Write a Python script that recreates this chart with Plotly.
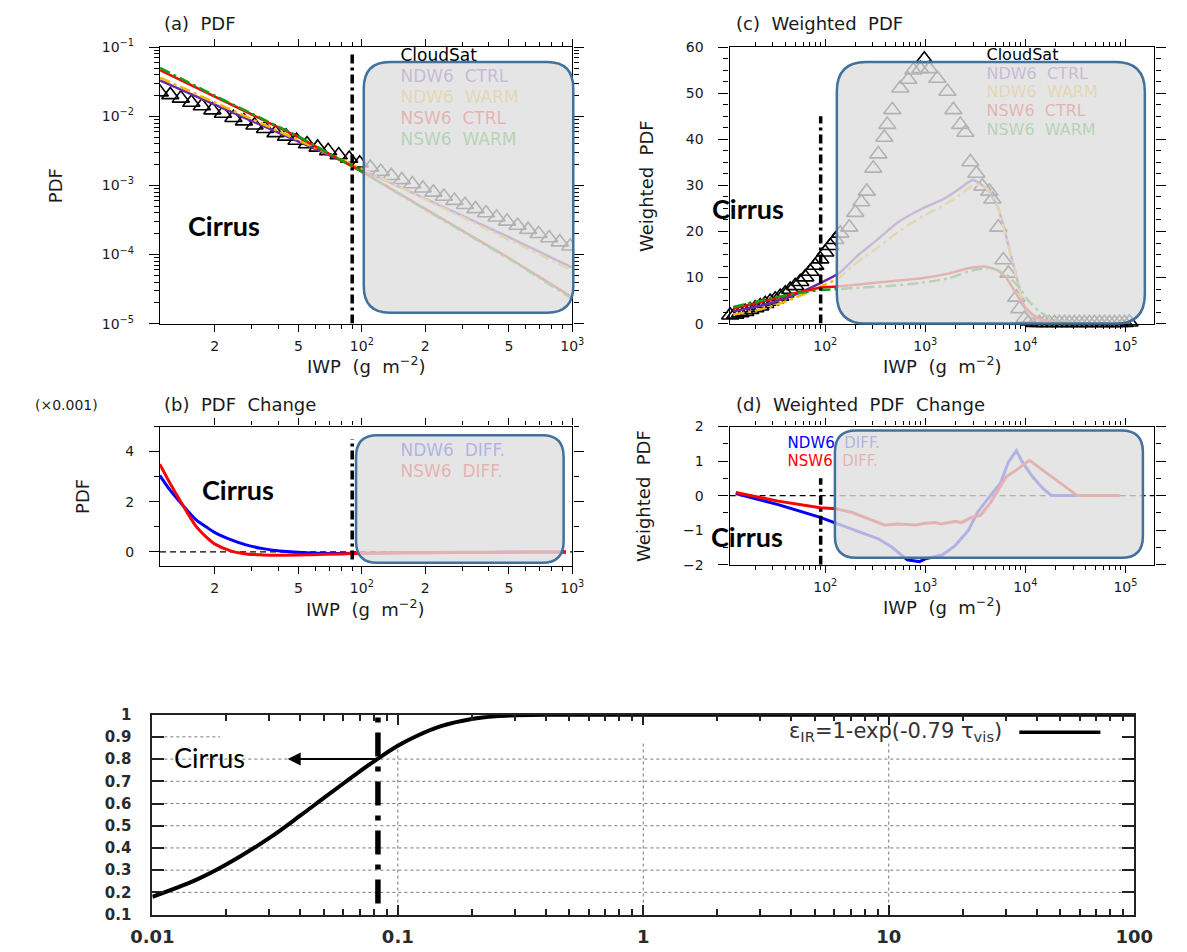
import math
import plotly.graph_objects as go

W, H = 1187, 952

# ---------------- (a) PDF ----------------
A_CS_LOGIWP = [1.04, 1.09, 1.14, 1.19, 1.24, 1.29, 1.34, 1.39, 1.44, 1.49,
               1.54, 1.59, 1.64, 1.69, 1.74, 1.79, 1.84, 1.89, 1.94, 1.99,
               2.04, 2.09, 2.14, 2.19, 2.24, 2.29, 2.34, 2.39, 2.44, 2.49,
               2.54, 2.59, 2.64, 2.69, 2.74, 2.79, 2.84, 2.89, 2.94, 2.99]
A_CS_LOGPDF = [-1.65, -1.69, -1.74, -1.80, -1.85, -1.91, -1.96, -2.02, -2.07, -2.13,
               -2.18, -2.24, -2.29, -2.35, -2.40, -2.45, -2.50, -2.56, -2.61, -2.68,
               -2.74, -2.80, -2.86, -2.92, -2.98, -3.04, -3.10, -3.16, -3.22, -3.28,
               -3.34, -3.40, -3.46, -3.52, -3.58, -3.64, -3.70, -3.76, -3.82, -3.88]
A_MODEL_IWP = [11, 20, 50, 100, 200, 500, 1000]
A_NDW6_CTRL = [-1.48, -1.83, -2.36, -2.77, -3.19, -3.75, -4.19]
A_NDW6_WARM = [-1.44, -1.80, -2.34, -2.76, -3.20, -3.78, -4.23]
A_NSW6_CTRL = [-1.33, -1.71, -2.30, -2.80, -3.34, -4.05, -4.62]
A_NSW6_WARM = [-1.30, -1.70, -2.29, -2.80, -3.35, -4.06, -4.64]

# ---------------- (b) PDF change (x0.001) ----------------
B_LOGIWP = [1.04, 1.09, 1.14, 1.21, 1.26, 1.30, 1.38, 1.45, 1.53, 1.61,
            1.76, 1.91, 2.0, 2.3, 2.6, 2.97]
B_NDW6_DIFF = [3.05, 2.45, 1.95, 1.3, 1.0, 0.78, 0.48, 0.28, 0.13, 0.04,
               -0.04, -0.06, -0.05, -0.03, -0.01, 0.0]
B_NSW6_DIFF = [3.5, 2.72, 2.0, 1.05, 0.6, 0.32, 0.03, -0.08, -0.12, -0.13,
               -0.11, -0.08, -0.05, -0.03, -0.02, 0.0]

# ---------------- (c) Weighted PDF ----------------
C_CS_LOGIWP = [1.05, 1.10, 1.15, 1.20, 1.25, 1.30, 1.35, 1.40, 1.45, 1.50,
               1.55, 1.60, 1.65, 1.70, 1.75, 1.80, 1.85, 1.90, 1.95, 2.00,
               2.05, 2.10, 2.15, 2.24, 2.30, 2.36, 2.415, 2.48, 2.53, 2.59,
               2.62, 2.67, 2.75, 2.83, 2.88, 2.95, 2.99, 3.04, 3.12, 3.22,
               3.28, 3.35, 3.40, 3.45, 3.51, 3.57, 3.64, 3.67, 3.73, 3.78,
               3.83, 3.91, 3.94, 3.99, 4.04, 4.09, 4.14, 4.19, 4.24, 4.29,
               4.34, 4.39, 4.44, 4.49, 4.54, 4.59, 4.64, 4.69, 4.74, 4.79,
               4.84, 4.89, 4.94, 4.99, 5.04]
C_CS_WPDF = [1.8, 2.0, 2.3, 2.6, 3.0, 3.4, 3.8, 4.3, 4.8, 5.3,
             5.9, 6.6, 7.4, 8.2, 9.1, 10.1, 11.3, 12.6, 14.0, 15.5,
             16.9, 18.2, 19.6, 20.9, 24.1, 26.4, 28.7, 33.7, 36.8, 40.4,
             43.2, 46.4, 51.1, 53.0, 55.0, 55.3, 57.4, 55.3, 53.2, 50.4,
             46.4, 43.2, 41.5, 35.1, 32.6, 29.8, 28.7, 27.0, 20.9, 13.8,
             10.9, 5.7, 3.2, 1.1, 0.5, 0.2, 0.2, 0.2, 0.2, 0.2,
             0.2, 0.2, 0.2, 0.2, 0.2, 0.2, 0.2, 0.2, 0.2, 0.2,
             0.2, 0.2, 0.2, 0.2, 0.3]

C_NDW6_CTRL_LOGIWP = [1.08, 1.30, 1.50, 1.70, 1.95, 2.14, 2.33, 2.53, 2.72, 2.98,
                      3.17, 3.33, 3.475, 3.62, 3.72, 3.78, 3.83, 3.88, 3.93, 3.97,
                      4.03, 4.13, 4.25, 4.5, 5.05]
C_NDW6_CTRL = [2.7, 3.6, 4.8, 6.3, 8.8, 11.0, 14.9, 18.4, 21.9, 25.1,
               26.9, 29.1, 31.2, 29.1, 25.5, 21.3, 17.0, 12.8, 8.5, 5.0,
               2.1, 0.7, 0.2, 0.05, 0.0]
C_NDW6_WARM_LOGIWP = [1.08, 1.30, 1.50, 1.70, 1.95, 2.14, 2.33, 2.53, 2.72, 2.98,
                      3.17, 3.33, 3.49, 3.59, 3.69, 3.75, 3.81, 3.88, 3.94, 4.00,
                      4.08, 4.18, 4.3, 4.5, 5.05]
C_NDW6_WARM = [2.0, 2.8, 4.0, 5.6, 8.0, 10.0, 13.5, 16.6, 19.8, 23.4,
               25.5, 27.7, 30.1, 29.8, 27.0, 23.4, 18.4, 12.8, 7.1, 3.5,
               1.4, 0.4, 0.1, 0.05, 0.0]
C_NSW6_CTRL_LOGIWP = [1.08, 1.30, 1.50, 1.70, 1.95, 2.14, 2.33, 2.66, 2.98, 3.24,
                      3.43, 3.59, 3.72, 3.81, 3.91, 4.00, 4.10, 4.23, 4.42, 4.7, 5.05]
C_NSW6_CTRL = [3.3, 4.4, 5.5, 6.6, 7.8, 8.1, 8.5, 9.2, 9.9, 10.9,
               12.0, 12.4, 11.6, 9.9, 6.4, 3.5, 1.6, 0.5, 0.15, 0.1, 0.1]
C_NSW6_WARM_LOGIWP = [1.08, 1.30, 1.50, 1.70, 1.95, 2.14, 2.33, 2.66, 2.98, 3.24,
                      3.46, 3.65, 3.81, 3.94, 4.03, 4.13, 4.23, 4.36, 4.58, 4.8, 5.05]
C_NSW6_WARM = [3.6, 4.7, 5.7, 6.5, 7.3, 7.5, 7.8, 8.2, 8.9, 9.9,
               11.5, 12.1, 10.6, 7.8, 5.0, 2.8, 1.4, 0.5, 0.15, 0.05, 0.0]

# ---------------- (d) Weighted PDF change ----------------
D_NDW6_LOGIWP = [1.106, 1.53, 1.95, 2.11, 2.34, 2.53, 2.66, 2.82, 2.94, 3.01,
                 3.17, 3.30, 3.43, 3.52, 3.62, 3.75, 3.83, 3.91, 3.97, 4.07,
                 4.17, 4.26, 4.94]
D_NDW6_DIFF = [0.06, -0.26, -0.63, -0.8, -1.06, -1.25, -1.48, -1.86, -1.91, -1.82,
               -1.72, -1.44, -1.01, -0.49, -0.11, 0.36, 0.97, 1.30, 0.97, 0.55,
               0.22, 0.0, 0.0]
D_NSW6_LOGIWP = [1.106, 1.53, 1.95, 2.11, 2.27, 2.43, 2.59, 2.72, 2.91, 3.00,
                 3.10, 3.16, 3.23, 3.30, 3.36, 3.46, 3.55, 3.65, 3.81, 3.91,
                 4.04, 4.13, 4.26, 4.39, 4.52, 4.94]
D_NSW6_DIFF = [0.09, -0.16, -0.35, -0.38, -0.49, -0.68, -0.85, -0.82, -0.85, -0.80,
               -0.78, -0.82, -0.79, -0.74, -0.78, -0.63, -0.57, -0.21, 0.55, 0.74,
               1.02, 0.83, 0.55, 0.26, 0.0, 0.0]

# ---------------- emissivity curve ----------------
E_X = [0.01, 0.015, 0.02, 0.03, 0.04, 0.05, 0.06, 0.07, 0.08, 0.1,
       0.12, 0.15, 0.2, 0.25, 0.3, 0.4, 1, 10, 100]
E_Y = [0.18, 0.255, 0.325, 0.445, 0.545, 0.625, 0.69, 0.745, 0.79, 0.86,
       0.905, 0.948, 0.98, 0.993, 0.997, 1.0, 1.0, 1.0, 1.0]

CIRRUS_IWP = 90        # IWP threshold (g m-2) for cirrus
CIRRUS_X = 0.083       # matching threshold on the emissivity axis
CIRRUS_EPS = 0.8

# colours
PURPLE, GOLD, RED, GREEN, BLUE = '#6a2aa8', '#f5b800', '#ff0000', '#12a012', '#0000ff'
BOX_LINE = '#41719c'
NCL_FONT = 'DejaVu Sans'
GP_FONT = 'DejaVu Sans'


def dom(a, b):
    return [a / W, b / W]


def vdom(top, bot):
    return [1 - bot / H, 1 - top / H]


def ncl_axis(**kw):
    base = dict(showline=True, linecolor='black', linewidth=1.4, mirror='ticks',
                ticks='outside', tickcolor='black', tickwidth=1.2, ticklen=7,
                showgrid=False, zeroline=False, fixedrange=True,
                tickfont=dict(family=NCL_FONT, size=14, color='#1a1a1a'))
    base.update(kw)
    return base


AB_XTICKS = [20, 50, 100, 200, 500, 1000]
AB_XTEXT = ['2', '5', '10<sup>2</sup>', '2', '5', '10<sup>3</sup>']
AB_XMINOR = [30, 40, 60, 70, 80, 90, 300, 400, 600, 700, 800, 900]
CD_XTICKS = [100, 1000, 10000, 100000]
CD_XTEXT = ['10<sup>2</sup>', '10<sup>3</sup>', '10<sup>4</sup>', '10<sup>5</sup>']
CD_XMINOR = [m * d for d in (10, 100, 1000, 10000) for m in range(2, 10)]
A_YTICKS = [1e-5, 1e-4, 1e-3, 1e-2, 1e-1]
A_YTEXT = ['10<sup>−5</sup>', '10<sup>−4</sup>', '10<sup>−3</sup>', '10<sup>−2</sup>', '10<sup>−1</sup>']
A_YMINOR = [m * d for d in (1e-5, 1e-4, 1e-3, 1e-2) for m in range(2, 10)]
E_XTICKS = [0.01, 0.1, 1, 10, 100]
E_XTEXT = ['0.01', '0.1', '1', '10', '100']
E_XMINOR = [m * d for d in (0.01, 0.1, 1, 10) for m in range(2, 10)]
E_YTICKS = [0.1, 0.2, 0.3, 0.4, 0.5, 0.6, 0.7, 0.8, 0.9, 1.0]
E_YTEXT = ['0.1', '0.2', '0.3', '0.4', '0.5', '0.6', '0.7', '0.8', '0.9', '1']
E_GRID_Y = [0.2, 0.3, 0.4, 0.5, 0.6, 0.7, 0.8]
E_GRID_X = [0.1, 1, 10]
E_XRANGE = [-2, 2]

fig = go.Figure()

ncl_cut = dict(color='black', width=3.5, dash='9px,4px,3px,4px')
warm_dash = '11px,4px,3px,4px'
tri = dict(symbol='triangle-up-open', size=15, color='black', line=dict(width=1.6, color='black'))

# (a)
fig.add_trace(go.Scatter(x=[10 ** v for v in A_CS_LOGIWP], y=[10 ** v for v in A_CS_LOGPDF],
                         mode='markers', xaxis='x', yaxis='y', marker=tri))
for vals, col, dash in [(A_NDW6_CTRL, PURPLE, 'solid'), (A_NDW6_WARM, GOLD, warm_dash),
                        (A_NSW6_CTRL, RED, 'solid'), (A_NSW6_WARM, GREEN, warm_dash)]:
    fig.add_trace(go.Scatter(x=A_MODEL_IWP, y=[10 ** v for v in vals], mode='lines',
                             xaxis='x', yaxis='y', line=dict(color=col, width=2.5, dash=dash)))
fig.add_trace(go.Scatter(x=[CIRRUS_IWP, CIRRUS_IWP], y=[1e-5, 10 ** -1.1], mode='lines',
                         xaxis='x', yaxis='y', line=ncl_cut))

# (c)
fig.add_trace(go.Scatter(x=[10 ** v for v in C_CS_LOGIWP], y=C_CS_WPDF, mode='markers',
                         xaxis='x2', yaxis='y2', cliponaxis=False, marker=tri))
for xs, vals, col, dash in [(C_NDW6_CTRL_LOGIWP, C_NDW6_CTRL, PURPLE, 'solid'),
                            (C_NDW6_WARM_LOGIWP, C_NDW6_WARM, GOLD, warm_dash),
                            (C_NSW6_CTRL_LOGIWP, C_NSW6_CTRL, RED, 'solid'),
                            (C_NSW6_WARM_LOGIWP, C_NSW6_WARM, GREEN, warm_dash)]:
    fig.add_trace(go.Scatter(x=[10 ** v for v in xs], y=vals, mode='lines',
                             xaxis='x2', yaxis='y2',
                             line=dict(color=col, width=2.5, dash=dash, shape='spline', smoothing=0.6)))
fig.add_trace(go.Scatter(x=[CIRRUS_IWP, CIRRUS_IWP], y=[0, 45], mode='lines',
                         xaxis='x2', yaxis='y2', line=ncl_cut))

# (b)
for vals, col in [(B_NDW6_DIFF, BLUE), (B_NSW6_DIFF, RED)]:
    fig.add_trace(go.Scatter(x=[10 ** v for v in B_LOGIWP], y=vals, mode='lines',
                             xaxis='x3', yaxis='y3',
                             line=dict(color=col, width=3, shape='spline', smoothing=0.9)))
fig.add_trace(go.Scatter(x=[CIRRUS_IWP, CIRRUS_IWP], y=[-0.3, 4.5], mode='lines',
                         xaxis='x3', yaxis='y3', line=ncl_cut))

# (d)
fig.add_trace(go.Scatter(x=[10 ** v for v in D_NDW6_LOGIWP], y=D_NDW6_DIFF, mode='lines',
                         xaxis='x4', yaxis='y4', line=dict(color=BLUE, width=3)))
fig.add_trace(go.Scatter(x=[10 ** v for v in D_NSW6_LOGIWP], y=D_NSW6_DIFF, mode='lines',
                         xaxis='x4', yaxis='y4', line=dict(color=RED, width=3)))
fig.add_trace(go.Scatter(x=[CIRRUS_IWP, CIRRUS_IWP], y=[-2, 0.5], mode='lines',
                         xaxis='x4', yaxis='y4', line=ncl_cut))

# emissivity
fig.add_trace(go.Scatter(x=E_X, y=E_Y, mode='lines', xaxis='x5', yaxis='y5',
                         line=dict(color='black', width=4, shape='spline', smoothing=1.0)))
fig.add_trace(go.Scatter(x=[CIRRUS_X, CIRRUS_X], y=[0.15, 1.0], mode='lines',
                         xaxis='x5', yaxis='y5',
                         line=dict(color='black', width=5.5, dash='24px,10px,5px,10px')))

# legend texts (pixel overlay, sitting under the translucent boxes)
legend_groups = [
    (392, [48, 69, 91, 112, 133], 17,
     ['CloudSat', 'NDW6  CTRL', 'NDW6  WARM', 'NSW6  CTRL', 'NSW6  WARM'],
     ['black', PURPLE, GOLD, RED, GREEN]),
    (999, [47, 66, 85, 104, 123], 16,
     ['CloudSat', 'NDW6  CTRL', 'NDW6  WARM', 'NSW6  CTRL', 'NSW6  WARM'],
     ['black', PURPLE, GOLD, RED, GREEN]),
    (392, [451, 472], 17, ['NDW6  DIFF.', 'NSW6  DIFF.'], [BLUE, RED]),
    (793, [443, 461], 15, ['NDW6  DIFF.', 'NSW6  DIFF.'], [BLUE, RED]),
]
for x0, ys, fs, texts, cols in legend_groups:
    fig.add_trace(go.Scatter(x=[x0] * len(ys), y=ys, mode='text', text=texts,
                             textposition='middle right', xaxis='x6', yaxis='y6',
                             cliponaxis=False, hoverinfo='skip',
                             textfont=dict(family=NCL_FONT, size=fs, color=cols)))


def rounded(x0, y0, x1, y1, r):
    return (f'M{x0 + r},{y0} L{x1 - r},{y0} Q{x1},{y0} {x1},{y0 + r} '
            f'L{x1},{y1 - r} Q{x1},{y1} {x1 - r},{y1} L{x0 + r},{y1} '
            f'Q{x0},{y1} {x0},{y1 - r} L{x0},{y0 + r} Q{x0},{y0} {x0 + r},{y0} Z')


shapes = []
for (x0, y0, x1, y1, r) in [(354, 53, 571, 309, 27), (844, 53, 1163, 320, 30),
                            (346, 434, 561, 564, 22), (842, 429, 1161, 559, 22)]:
    shapes.append(dict(type='path', path=rounded(x0, y0, x1, y1, r), xref='x6', yref='y6',
                       fillcolor='rgba(222,222,222,0.8)', line=dict(color=BOX_LINE, width=2.5),
                       layer='above'))
# zero reference lines
for xa, ya in [('x3', 'y3'), ('x4', 'y4')]:
    shapes.append(dict(type='line', xref=f'{xa} domain', yref=ya, x0=0, x1=1, y0=0, y1=0,
                       line=dict(color='black', width=1.2, dash='6px,4px'), layer='below'))
# emissivity grid (dotted), interrupted by the key box
key_left = 0.069
grid_line = dict(color='#777', width=1, dash='dot')
for gy in E_GRID_Y:
    shapes.append(dict(type='line', xref='x5 domain', yref='y5', x0=0, x1=1, y0=gy, y1=gy,
                       line=grid_line, layer='below'))
shapes.append(dict(type='line', xref='x5 domain', yref='y5', x0=0, x1=key_left, y0=0.9, y1=0.9,
                   line=grid_line, layer='below'))
for gx in E_GRID_X:
    f = (math.log10(gx) - E_XRANGE[0]) / (E_XRANGE[1] - E_XRANGE[0])
    shapes.append(dict(type='line', xref='x5 domain', yref='y5', x0=f, x1=f, y0=0.1, y1=0.88,
                       line=grid_line, layer='below'))
# emissivity key sample
shapes.append(dict(type='line', xref='x6', yref='y6', x0=1033, x1=1117, y0=737, y1=737,
                   line=dict(color='black', width=3.5)))

ann = []


def txt(x, y, s, size=18, xanchor='left', angle=0, family=NCL_FONT, color='#1a1a1a', bold=False):
    ann.append(dict(x=x, y=y, xref='x6', yref='y6', text=s, showarrow=False,
                    xanchor=xanchor, yanchor='middle', textangle=angle,
                    font=dict(family=family, size=size, color=color,
                              weight='bold' if bold else 'normal')))


txt(145, 14, '(a)  PDF')
txt(737, 14, '(c)  Weighted  PDF')
txt(11, 403, '(×0.001)', size=14)
txt(145, 403, '(b)  PDF  Change')
txt(737, 403, '(d)  Weighted  PDF  Change')
txt(35, 179, 'PDF', xanchor='center', angle=-90)
txt(647, 180, 'Weighted  PDF', xanchor='center', angle=-90)
txt(62, 496, 'PDF', xanchor='center', angle=-90)
txt(643, 496, 'Weighted  PDF', xanchor='center', angle=-90)
for cx, cy in [(356, 362), (953, 362), (355, 610), (953, 608)]:
    txt(cx, cy, 'IWP  (g  m<sup>−2</sup>)', xanchor='center')
for cx, cy in [(209, 220), (752, 203), (224, 489), (751, 537)]:
    txt(cx, cy, 'Cirrus', size=27, xanchor='center', family='Lato', color='black', bold=True)
txt(194, 763, 'Cirrus', size=27, xanchor='center', family='Lato', color='black')
txt(1017, 737, 'ε<sub>IR</sub>=1-exp(-0.79 τ<sub>vis</sub>)', size=21, xanchor='right',
    family=GP_FONT, color='#333')
# arrow from the threshold point towards the cirrus label
ann.append(dict(x=math.log10(0.0356), y=CIRRUS_EPS, ax=math.log10(CIRRUS_X), ay=CIRRUS_EPS,
                xref='x5', yref='y5', axref='x5', ayref='y5', text='', showarrow=True,
                arrowhead=2, arrowsize=1.3, arrowwidth=2, arrowcolor='black'))

fig.update_layout(
    width=W, height=H, margin=dict(l=0, r=0, t=0, b=0),
    paper_bgcolor='white', plot_bgcolor='rgba(0,0,0,0)', showlegend=False,
    shapes=shapes, annotations=ann,
    xaxis=ncl_axis(domain=dom(143, 570), anchor='y', type='log', range=[1.0414, 3.0],
                   tickvals=AB_XTICKS, ticktext=AB_XTEXT, ticklabelstandoff=2,
                   minor=dict(tickvals=AB_XMINOR, ticks='outside', ticklen=4, tickcolor='black')),
    yaxis=ncl_axis(domain=vdom(38, 320), anchor='x', type='log', range=[-5, -1],
                   tickvals=A_YTICKS, ticktext=A_YTEXT, ticklen=10, ticklabelstandoff=12,
                   minor=dict(tickvals=A_YMINOR, ticks='outside', ticklen=5, tickcolor='black')),
    xaxis2=ncl_axis(domain=dom(733, 1173), anchor='y2', type='log', range=[1.045, 5.29],
                    tickvals=CD_XTICKS, ticktext=CD_XTEXT, ticklabelstandoff=2,
                    minor=dict(tickvals=CD_XMINOR, ticks='outside', ticklen=4, tickcolor='black')),
    yaxis2=ncl_axis(domain=vdom(38, 320), anchor='x2', range=[0, 60],
                    tickvals=[0, 10, 20, 30, 40, 50, 60], ticklen=10, ticklabelstandoff=12,
                    minor=dict(dtick=2.5, tick0=0, ticks='outside', ticklen=5, tickcolor='black')),
    xaxis3=ncl_axis(domain=dom(143, 570), anchor='y3', type='log', range=[1.0414, 3.0],
                    tickvals=AB_XTICKS, ticktext=AB_XTEXT, ticklabelstandoff=2,
                    minor=dict(tickvals=AB_XMINOR, ticks='outside', ticklen=4, tickcolor='black')),
    yaxis3=ncl_axis(domain=vdom(425, 567), anchor='x3', range=[-0.55, 5],
                    tickvals=[0, 2, 4], ticklen=10, ticklabelstandoff=12,
                    minor=dict(dtick=1, tick0=0, ticks='outside', ticklen=5, tickcolor='black')),
    xaxis4=ncl_axis(domain=dom(733, 1173), anchor='y4', type='log', range=[1.045, 5.29],
                    tickvals=CD_XTICKS, ticktext=CD_XTEXT, ticklabelstandoff=2,
                    minor=dict(tickvals=CD_XMINOR, ticks='outside', ticklen=4, tickcolor='black')),
    yaxis4=ncl_axis(domain=vdom(425, 566), anchor='x4', range=[-2, 2],
                    tickvals=[-2, -1, 0, 1, 2], ticktext=['−2', '−1', '0', '1', '2'],
                    ticklen=10, ticklabelstandoff=12,
                    minor=dict(dtick=0.5, tick0=0, ticks='outside', ticklen=5, tickcolor='black')),
    xaxis5=dict(domain=dom(135, 1152), anchor='y5', type='log', range=E_XRANGE,
                showline=True, linecolor='#222', linewidth=2, mirror='ticks',
                ticks='inside', ticklen=10, tickwidth=1.5, tickcolor='#222',
                tickvals=E_XTICKS, ticktext=E_XTEXT, ticklabelstandoff=5,
                showgrid=False, zeroline=False, fixedrange=True,
                tickfont=dict(family=GP_FONT, size=18, color='#2a2a2a', weight='bold'),
                minor=dict(tickvals=E_XMINOR, ticks='inside', ticklen=6, tickcolor='#222')),
    yaxis5=dict(domain=vdom(719, 923), anchor='x5', range=[0.1, 1.0],
                showline=True, linecolor='#222', linewidth=2, mirror='ticks',
                ticks='inside', ticklen=12, tickwidth=1.5, tickcolor='#222',
                tickvals=E_YTICKS, ticktext=E_YTEXT, ticklabelstandoff=16,
                showgrid=False, zeroline=False, fixedrange=True,
                tickfont=dict(family=GP_FONT, size=15, color='#2a2a2a', weight='bold')),
    xaxis6=dict(domain=[0, 1], anchor='y6', range=[0, W], visible=False, fixedrange=True),
    yaxis6=dict(domain=[0, 1], anchor='x6', range=[H, 0], visible=False, fixedrange=True),
)

fig.write_html('out.html')
